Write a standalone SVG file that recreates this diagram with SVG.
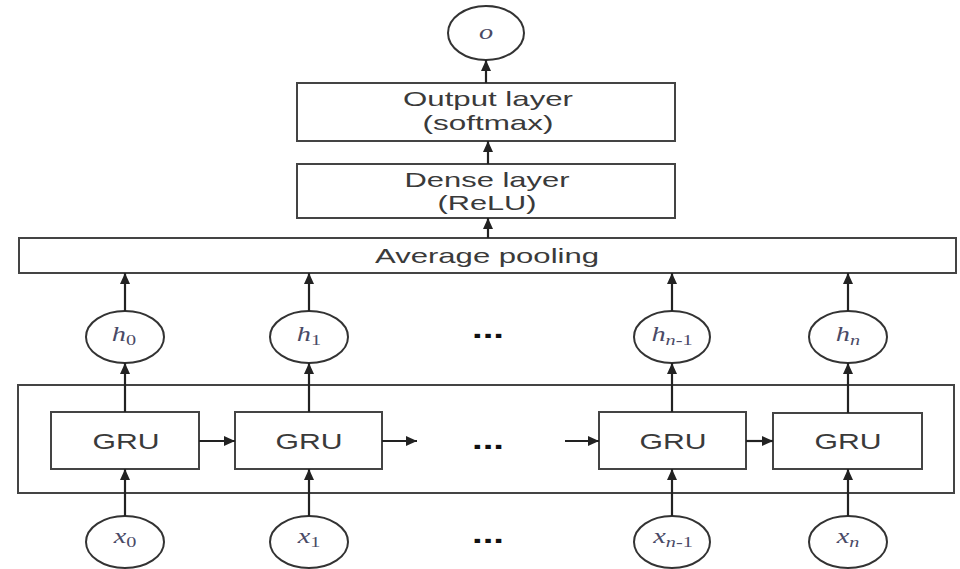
<svg xmlns="http://www.w3.org/2000/svg" width="960" height="569" viewBox="0 0 960 569">
<defs>
<marker id="ah" viewBox="0 0 11 10" refX="11" refY="5" markerWidth="11" markerHeight="10" markerUnits="userSpaceOnUse" orient="auto">
<path d="M0,0 L11,5 L0,10 z" fill="#222"/>
</marker>
<style>
.box{fill:#fff;stroke:#444;stroke-width:2}
.node{fill:#fff;stroke:#333;stroke-width:2}
.lbl{font-family:"Liberation Sans",Arial,sans-serif;font-size:21px;fill:#3a3a3a;text-anchor:middle}
.gru{font-family:"Liberation Sans",Arial,sans-serif;font-size:22px;fill:#3a3a3a;text-anchor:middle}
.m{font-family:"Liberation Serif","Times New Roman",serif;font-style:italic;font-size:21px;fill:#4a4a66;text-anchor:middle}
.sub{font-size:15px}
.up{font-style:normal}
.dots{font-family:"Liberation Sans",Arial,sans-serif;font-size:28px;font-weight:bold;fill:#111;text-anchor:middle}
.c{stroke:#222;stroke-width:2.2;fill:none;marker-end:url(#ah)}
</style>
</defs>
<g id="outer"><rect class="box" x="18" y="385" width="936" height="108"/></g>
<g id="out-node"><ellipse class="node" cx="486" cy="33" rx="38" ry="27"/><text class="m" transform="translate(486 39) scale(1.35 1)">o</text></g>
<g id="output-layer"><rect class="box" x="297" y="83" width="378" height="58"/><text class="lbl" x="488" y="106" textLength="170" lengthAdjust="spacingAndGlyphs">Output layer</text><text class="lbl" x="488" y="130" textLength="131" lengthAdjust="spacingAndGlyphs">(softmax)</text></g>
<g id="dense-layer"><rect class="box" x="297" y="164" width="378" height="54"/><text class="lbl" x="487" y="187" textLength="165" lengthAdjust="spacingAndGlyphs">Dense layer</text><text class="lbl" x="487" y="210" textLength="99" lengthAdjust="spacingAndGlyphs">(ReLU)</text></g>
<g id="pooling"><rect class="box" x="19" y="238" width="937" height="35"/><text class="lbl" x="487" y="263" textLength="224" lengthAdjust="spacingAndGlyphs">Average pooling</text></g>
<g id="h0"><ellipse class="node" cx="125" cy="337" rx="39" ry="26"/><text class="m" transform="translate(124 341) scale(1.35 1)">h<tspan class="sub up" dy="4">0</tspan></text></g>
<g id="h1"><ellipse class="node" cx="309" cy="337" rx="39" ry="26"/><text class="m" transform="translate(309 341) scale(1.35 1)">h<tspan class="sub up" dy="4">1</tspan></text></g>
<g id="hn1"><ellipse class="node" cx="672" cy="337" rx="38" ry="26"/><text class="m" transform="translate(672 341) scale(1.35 1)">h<tspan class="sub" dy="4">n</tspan><tspan class="sub up">-1</tspan></text></g>
<g id="hn"><ellipse class="node" cx="848" cy="337" rx="39" ry="26"/><text class="m" transform="translate(848 341) scale(1.35 1)">h<tspan class="sub" dy="4">n</tspan></text></g>
<g id="gru0"><rect class="box" x="51" y="412" width="148" height="57"/><text class="gru" x="126" y="449" textLength="67" lengthAdjust="spacingAndGlyphs">GRU</text></g>
<g id="gru1"><rect class="box" x="235" y="412" width="147" height="57"/><text class="gru" x="309" y="449" textLength="67" lengthAdjust="spacingAndGlyphs">GRU</text></g>
<g id="grun1"><rect class="box" x="599" y="412" width="147" height="57"/><text class="gru" x="673" y="449" textLength="67" lengthAdjust="spacingAndGlyphs">GRU</text></g>
<g id="grun"><rect class="box" x="773" y="413" width="149" height="56"/><text class="gru" x="848" y="449" textLength="67" lengthAdjust="spacingAndGlyphs">GRU</text></g>
<g id="x0"><ellipse class="node" cx="125" cy="542" rx="39" ry="26"/><text class="m" transform="translate(125 543) scale(1.35 1)">x<tspan class="sub up" dy="4">0</tspan></text></g>
<g id="x1"><ellipse class="node" cx="309" cy="542" rx="39" ry="26"/><text class="m" transform="translate(309 543) scale(1.35 1)">x<tspan class="sub up" dy="4">1</tspan></text></g>
<g id="xn1"><ellipse class="node" cx="672" cy="542" rx="38" ry="26"/><text class="m" transform="translate(673 543) scale(1.35 1)">x<tspan class="sub" dy="4">n</tspan><tspan class="sub up">-1</tspan></text></g>
<g id="xn"><ellipse class="node" cx="848" cy="542" rx="39" ry="26"/><text class="m" transform="translate(848 543) scale(1.35 1)">x<tspan class="sub" dy="4">n</tspan></text></g>
<g id="dots">
<text class="dots" x="488" y="338" textLength="32" lengthAdjust="spacingAndGlyphs">...</text>
<text class="dots" x="488" y="449" textLength="32" lengthAdjust="spacingAndGlyphs">...</text>
<text class="dots" x="488" y="543" textLength="32" lengthAdjust="spacingAndGlyphs">...</text>
</g>
<g id="connectors">
<line class="c" x1="486" y1="83" x2="486" y2="60"/>
<line class="c" x1="488" y1="164" x2="488" y2="141"/>
<line class="c" x1="488" y1="238" x2="488" y2="218"/>
<line class="c" x1="125" y1="311" x2="125" y2="273"/>
<line class="c" x1="309" y1="311" x2="309" y2="273"/>
<line class="c" x1="672" y1="311" x2="672" y2="273"/>
<line class="c" x1="848" y1="311" x2="848" y2="273"/>
<line class="c" x1="125" y1="412" x2="125" y2="363"/>
<line class="c" x1="309" y1="412" x2="309" y2="363"/>
<line class="c" x1="672" y1="412" x2="672" y2="363"/>
<line class="c" x1="848" y1="413" x2="848" y2="363"/>
<line class="c" x1="125" y1="516" x2="125" y2="469"/>
<line class="c" x1="309" y1="516" x2="309" y2="469"/>
<line class="c" x1="672" y1="516" x2="672" y2="469"/>
<line class="c" x1="848" y1="516" x2="848" y2="469"/>
<line class="c" x1="199" y1="441" x2="235" y2="441"/>
<line class="c" x1="382" y1="441" x2="417" y2="441"/>
<line class="c" x1="565" y1="441" x2="599" y2="441"/>
<line class="c" x1="746" y1="441" x2="773" y2="441"/>
</g>
</svg>
